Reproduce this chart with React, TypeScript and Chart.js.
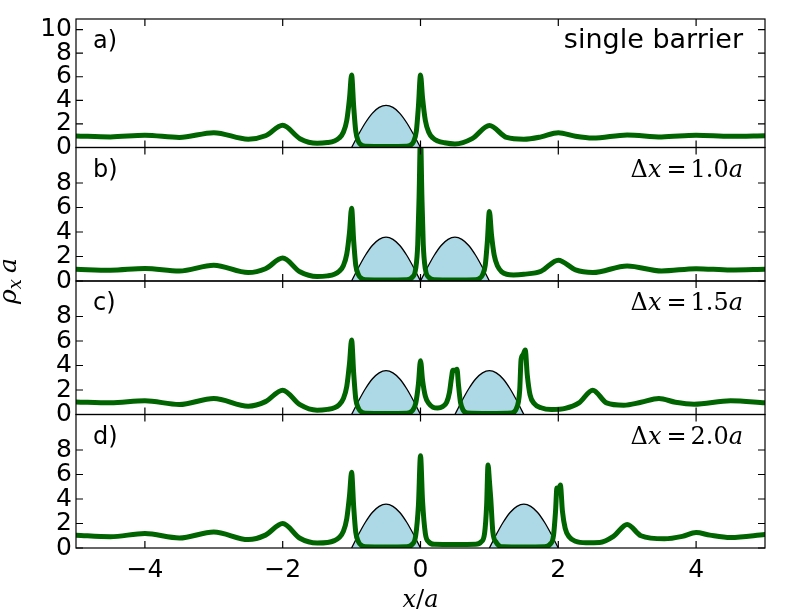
import React, { useEffect, useRef } from 'react';
import { Chart, registerables, type ChartConfiguration, type Plugin } from 'chart.js';

Chart.register(...registerables);

// page / plot geometry
const W = 789;
const H = 615;
const PLOT_LEFT = 76;
const PLOT_RIGHT = 765;
const PANEL_TOPS = [14, 147.5, 281, 414.5];
const PANEL_H = 133.5;
const Y_AXIS_W = 60;
const X_AXIS_H = 67;

const X_MIN = -5;
const X_MAX = 5;
const Y_MIN = 0;
const Y_MAX = 10.9;
const X_TICKS = [-4, -2, 0, 2, 4];
const Y_TICKS_FIRST = [0, 2, 4, 6, 8, 10];
const Y_TICKS_REST = [0, 2, 4, 6, 8];

const PANEL_LETTERS = ['a)', 'b)', 'c)', 'd)'];
const PANEL_SPACING = ['', '1.0', '1.5', '2.0'];
const SINGLE_LABEL = 'single barrier';

const LINE_COLOR = '#006400';
const BARRIER_FILL = '#add8e6';

// barrier profile (offset from its left edge, height), same for every barrier
const barrierDx = [0, 0.05, 0.1, 0.2, 0.3, 0.4, 0.5, 0.6, 0.7, 0.8, 0.9, 0.95, 1];
const barrierHeight = [0, 0.55, 1.1, 2.1, 2.9, 3.4, 3.58, 3.4, 2.9, 2.1, 1.1, 0.55, 0];

const barrierStartsA = [-1];
const barrierStartsB = [-1, 0];
const barrierStartsC = [-1, 0.5];
const barrierStartsD = [-1, 1];

// a) single barrier
const xA = [-5, -4.5, -4, -3.5, -3, -2.5, -2.25, -2, -1.75, -1.5, -1.35, -1.25, -1.18, -1.12, -1.07, -1.03, -1, -0.97, -0.94, -0.9, -0.85, -0.8, -0.5, -0.2, -0.15, -0.1, -0.06, -0.03, 0, 0.03, 0.07, 0.12, 0.18, 0.25, 0.35, 0.5, 0.75, 1, 1.25, 1.5, 1.75, 2, 2.25, 2.5, 3, 3.5, 4, 4.5, 5];
const rhoA = [0.98, 0.9, 1.04, 0.85, 1.26, 0.71, 1.0, 1.88, 0.75, 0.36, 0.42, 0.55, 0.8, 1.3, 2.3, 4.2, 6.15, 3.5, 1.4, 0.5, 0.18, 0.1, 0.08, 0.1, 0.18, 0.5, 1.4, 3.5, 6.15, 4.2, 2.3, 1.3, 0.8, 0.55, 0.4, 0.3, 0.75, 1.86, 0.85, 0.7, 0.9, 1.26, 0.95, 0.8, 1.07, 0.9, 1.04, 0.95, 1.0];

// b) dx = 1.0a
const xB = [-5, -4.5, -4, -3.5, -3, -2.5, -2.25, -2, -1.75, -1.5, -1.35, -1.25, -1.18, -1.12, -1.07, -1.03, -1, -0.97, -0.94, -0.9, -0.85, -0.8, -0.5, -0.2, -0.12, -0.07, -0.04, -0.02, 0, 0.02, 0.04, 0.07, 0.12, 0.2, 0.5, 0.8, 0.85, 0.9, 0.94, 0.97, 1, 1.03, 1.07, 1.12, 1.18, 1.25, 1.35, 1.5, 1.75, 2, 2.25, 2.5, 3, 3.5, 4, 4.5, 5];
const rhoB = [0.96, 0.88, 1.02, 0.82, 1.29, 0.69, 1.0, 1.87, 0.75, 0.36, 0.42, 0.55, 0.8, 1.25, 2.2, 4.0, 5.95, 3.3, 1.3, 0.5, 0.18, 0.1, 0.08, 0.1, 0.3, 1.0, 3.0, 7.0, 12.0, 7.0, 3.0, 1.0, 0.3, 0.1, 0.08, 0.1, 0.18, 0.5, 1.3, 3.2, 5.68, 3.8, 2.1, 1.2, 0.75, 0.55, 0.5, 0.55, 0.8, 1.7, 0.9, 0.69, 1.23, 0.82, 1.01, 0.9, 0.96];

// c) dx = 1.5a
const xC = [-5, -4.5, -4, -3.5, -3, -2.5, -2.25, -2, -1.75, -1.5, -1.35, -1.25, -1.18, -1.12, -1.07, -1.03, -1, -0.97, -0.94, -0.9, -0.85, -0.8, -0.5, -0.2, -0.12, -0.07, -0.03, 0, 0.03, 0.07, 0.12, 0.18, 0.25, 0.32, 0.38, 0.42, 0.45, 0.47, 0.5, 0.53, 0.55, 0.58, 0.62, 0.68, 1, 1.32, 1.38, 1.42, 1.44, 1.46, 1.49, 1.52, 1.55, 1.59, 1.65, 1.75, 1.9, 2.1, 2.3, 2.5, 2.7, 2.95, 3.2, 3.46, 3.7, 3.97, 4.5, 5];
const rhoC = [1.03, 0.95, 1.12, 0.82, 1.31, 0.68, 1.05, 1.99, 0.8, 0.35, 0.42, 0.55, 0.8, 1.3, 2.3, 4.2, 6.09, 3.4, 1.3, 0.5, 0.18, 0.1, 0.08, 0.1, 0.3, 0.9, 2.5, 4.39, 2.8, 1.5, 0.9, 0.6, 0.54, 0.65, 1.0, 1.8, 3.0, 3.62, 3.6, 3.69, 2.5, 1.0, 0.35, 0.12, 0.08, 0.12, 0.35, 1.0, 2.0, 4.5, 4.9, 5.27, 3.2, 1.6, 0.9, 0.55, 0.41, 0.5, 0.95, 1.99, 0.95, 0.76, 1.0, 1.31, 1.0, 0.84, 1.12, 0.95];

// d) dx = 2.0a
const xD = [-5, -4.5, -4, -3.5, -3, -2.5, -2.25, -2, -1.75, -1.5, -1.35, -1.25, -1.18, -1.12, -1.07, -1.03, -1, -0.97, -0.94, -0.9, -0.85, -0.8, -0.5, -0.2, -0.12, -0.07, -0.03, 0, 0.03, 0.07, 0.12, 0.2, 0.5, 0.8, 0.88, 0.93, 0.96, 0.98, 1, 1.02, 1.05, 1.1, 1.15, 1.2, 1.5, 1.8, 1.88, 1.93, 1.96, 1.98, 2, 2.03, 2.06, 2.1, 2.16, 2.25, 2.4, 2.6, 2.8, 3, 3.2, 3.54, 3.8, 4, 4.2, 4.5, 5];
const rhoD = [1.04, 0.92, 1.18, 0.82, 1.31, 0.69, 1.05, 2.0, 0.8, 0.41, 0.45, 0.6, 0.85, 1.35, 2.4, 4.3, 6.18, 3.4, 1.3, 0.5, 0.18, 0.1, 0.08, 0.1, 0.3, 1.0, 3.5, 7.54, 3.8, 1.2, 0.5, 0.3, 0.28, 0.3, 0.5, 1.2, 3.5, 6.78, 5.5, 4.0, 1.3, 0.45, 0.15, 0.1, 0.08, 0.1, 0.3, 1.0, 3.0, 4.9, 4.7, 5.14, 3.0, 1.6, 0.9, 0.55, 0.43, 0.45, 0.95, 1.92, 1.0, 0.75, 0.95, 1.26, 1.05, 0.85, 1.1];

const PANELS = [
  { xs: xA, ys: rhoA, starts: barrierStartsA },
  { xs: xB, ys: rhoB, starts: barrierStartsB },
  { xs: xC, ys: rhoC, starts: barrierStartsC },
  { xs: xD, ys: rhoD, starts: barrierStartsD }
];

const SANS = '"DejaVu Sans", sans-serif';
const SERIF = '"DejaVu Serif", serif';

interface Piece {
  text: string;
  font: string;
  dy?: number;
  gap?: number;
}

// draw a run of differently styled pieces, aligned on one baseline
const drawPieces = (ctx: CanvasRenderingContext2D, pieces: Piece[], x: number, y: number, align: 'left' | 'right' | 'center') => {
  const widths = pieces.map((p) => {
    ctx.font = p.font;
    return ctx.measureText(p.text).width + (p.gap ?? 0);
  });
  const total = widths.reduce((a, b) => a + b, 0);
  let cx = align === 'left' ? x : align === 'right' ? x - total : x - total / 2;
  ctx.textAlign = 'left';
  ctx.textBaseline = 'alphabetic';
  pieces.forEach((p, i) => {
    ctx.font = p.font;
    ctx.fillText(p.text, cx, y + (p.dy ?? 0));
    cx += widths[i];
  });
};

const formatTick = (v: number) => (v < 0 ? '\u2212' + Math.abs(v) : String(v));

interface PanelProps {
  index: number;
  xs: number[];
  ys: number[];
  starts: number[];
}

const Panel: React.FC<PanelProps> = ({ index, xs, ys, starts }) => {
  const canvasRef = useRef<HTMLCanvasElement>(null);

  useEffect(() => {
    const ctx = canvasRef.current?.getContext('2d');
    if (!ctx) return;

    const top = PANEL_TOPS[index];
    const bottom = top + PANEL_H;
    const isLast = index === PANEL_TOPS.length - 1;
    const yTicks = index === 0 ? Y_TICKS_FIRST : Y_TICKS_REST;

    // frame, inward ticks and the text labels
    const decor: Plugin<'line'> = {
      id: 'decor' + index,
      afterDraw(chart) {
        const c = chart.ctx;
        const { left, right, top: t, bottom: b } = chart.chartArea;
        const xs0 = chart.scales.x;
        const ys0 = chart.scales.y;
        c.save();
        c.strokeStyle = '#000';
        c.lineWidth = 1.2;
        c.strokeRect(left, t, right - left, b - t);
        c.beginPath();
        X_TICKS.forEach((v) => {
          const px = xs0.getPixelForValue(v);
          c.moveTo(px, t);
          c.lineTo(px, t + 7);
          c.moveTo(px, b);
          c.lineTo(px, b - 7);
        });
        yTicks.forEach((v) => {
          const py = ys0.getPixelForValue(v);
          c.moveTo(left, py);
          c.lineTo(left + 7, py);
          c.moveTo(right, py);
          c.lineTo(right - 7, py);
        });
        c.stroke();

        c.fillStyle = '#000';
        drawPieces(c, [{ text: PANEL_LETTERS[index], font: `24px ${SANS}` }], left + 17, t + 29, 'left');
        if (index === 0) {
          drawPieces(c, [{ text: SINGLE_LABEL, font: `27px ${SANS}` }], right - 22, t + 29, 'right');
        } else {
          drawPieces(
            c,
            [
              { text: '\u0394', font: `24px ${SERIF}` },
              { text: 'x', font: `italic 24px ${SERIF}`, gap: 5 },
              { text: '=', font: `24px ${SERIF}`, gap: 4 },
              { text: PANEL_SPACING[index], font: `24px ${SERIF}` },
              { text: 'a', font: `italic 24px ${SERIF}` }
            ],
            right - 22,
            t + 29,
            'right'
          );
        }

        if (isLast) {
          drawPieces(
            c,
            [
              { text: 'x', font: `italic 24px ${SERIF}` },
              { text: '/', font: `24px ${SERIF}` },
              { text: 'a', font: `italic 24px ${SERIF}` }
            ],
            (left + right) / 2,
            607,
            'center'
          );
          c.save();
          c.translate(16, 281);
          c.rotate(-Math.PI / 2);
          drawPieces(
            c,
            [
              { text: '\u03c1', font: `italic 25px ${SERIF}` },
              { text: 'x', font: `italic 18px ${SERIF}`, dy: 5, gap: 6 },
              { text: 'a', font: `italic 25px ${SERIF}` }
            ],
            0,
            0,
            'center'
          );
          c.restore();
        }
        c.restore();
      }
    };

    const barrierSets = starts.map((s) => ({
      data: barrierDx.map((d, i) => ({ x: s + d, y: barrierHeight[i] })),
      borderColor: '#000',
      borderWidth: 1.3,
      backgroundColor: BARRIER_FILL,
      fill: 'origin' as const,
      pointRadius: 0,
      cubicInterpolationMode: 'monotone' as const,
      order: 1
    }));

    const config: ChartConfiguration<'line', { x: number; y: number }[]> = {
      type: 'line',
      data: {
        datasets: [
          {
            data: xs.map((x, i) => ({ x, y: ys[i] })),
            borderColor: LINE_COLOR,
            borderWidth: 5,
            borderJoinStyle: 'round',
            borderCapStyle: 'round',
            pointRadius: 0,
            fill: false,
            cubicInterpolationMode: 'monotone',
            order: 0
          },
          ...barrierSets
        ]
      },
      options: {
        responsive: false,
        animation: false,
        layout: {
          autoPadding: false,
          padding: {
            left: PLOT_LEFT - Y_AXIS_W,
            right: W - PLOT_RIGHT,
            top,
            bottom: H - bottom - (isLast ? X_AXIS_H : 0)
          }
        },
        plugins: {
          legend: { display: false },
          tooltip: { enabled: false }
        },
        scales: {
          x: {
            type: 'linear',
            min: X_MIN,
            max: X_MAX,
            display: isLast,
            afterBuildTicks: (s) => {
              s.ticks = X_TICKS.map((value) => ({ value }));
            },
            afterFit: (s) => {
              s.height = isLast ? X_AXIS_H : 0;
            },
            grid: { display: false, drawTicks: false },
            border: { display: false },
            ticks: {
              color: '#000',
              padding: 7,
              maxRotation: 0,
              autoSkip: false,
              font: { family: SANS, size: 25 },
              callback: (v) => formatTick(Number(v))
            }
          },
          y: {
            type: 'linear',
            min: Y_MIN,
            max: Y_MAX,
            afterBuildTicks: (s) => {
              s.ticks = yTicks.map((value) => ({ value }));
            },
            afterFit: (s) => {
              s.width = Y_AXIS_W;
            },
            grid: { display: false, drawTicks: false },
            border: { display: false },
            ticks: {
              color: '#000',
              padding: 4,
              autoSkip: false,
              font: { family: SANS, size: 25 },
              callback: (v) => String(v)
            }
          }
        }
      },
      plugins: [decor]
    };

    const chart = new Chart(ctx, config);
    return () => chart.destroy();
  }, [index, xs, ys, starts]);

  return (
    <canvas
      ref={canvasRef}
      width={W}
      height={H}
      style={{ position: 'absolute', left: 0, top: 0, width: W, height: H }}
    />
  );
};

export default function App() {
  return (
    <div style={{ position: 'absolute', left: 0, top: 0, width: W, height: H, background: '#fff', overflow: 'hidden' }}>
      {PANELS.map((p, i) => (
        <Panel key={i} index={i} xs={p.xs} ys={p.ys} starts={p.starts} />
      ))}
    </div>
  );
}
